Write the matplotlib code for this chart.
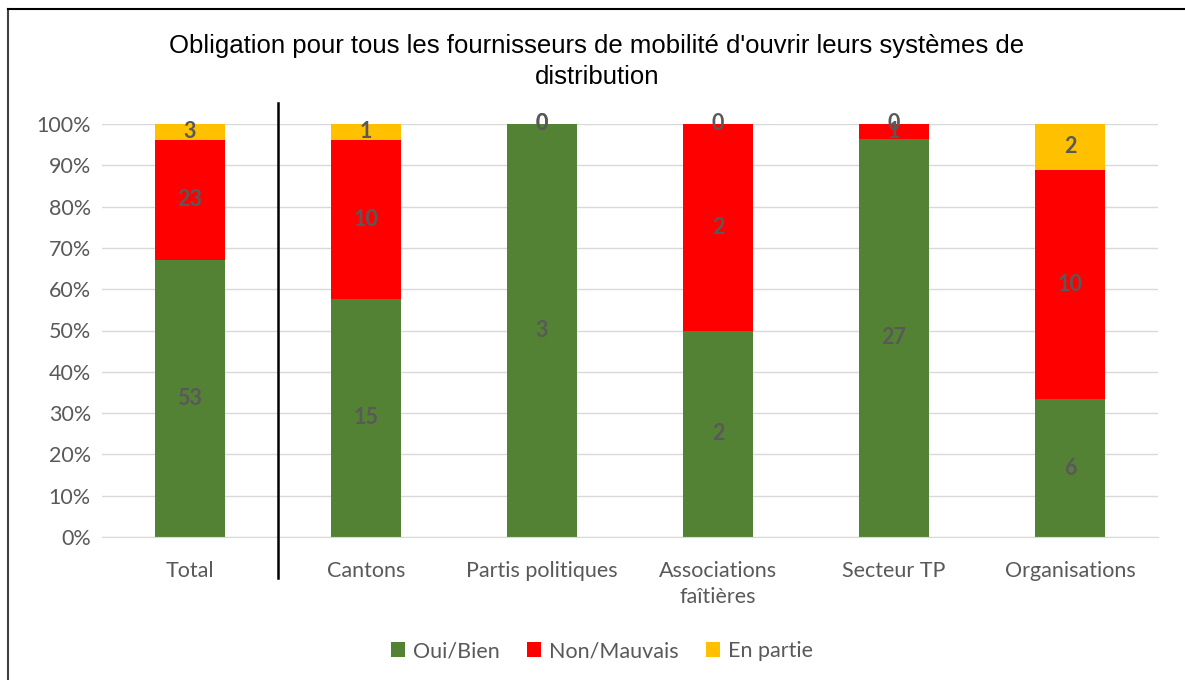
import matplotlib
matplotlib.use("Agg")
import matplotlib.pyplot as plt
import numpy as np

categories = ["Total", "Cantons", "Partis politiques", "Associations\nfaîtières", "Secteur TP", "Organisations"]
oui = [53, 15, 3, 2, 27, 6]
non = [23, 10, 0, 2, 1, 10]
partie = [3, 1, 0, 0, 0, 2]
series_names = ["Oui/Bien", "Non/Mauvais", "En partie"]
colors = ["#548235", "#ff0000", "#ffc000"]
title = "Obligation pour tous les fournisseurs de mobilité d'ouvrir leurs systèmes de\ndistribution"

plt.rcParams['font.family'] = ['Lato', 'DejaVu Sans']

counts = np.array([oui, non, partie], dtype=float)
totals = counts.sum(axis=0)
shares = counts / totals

fig = plt.figure(figsize=(11.85, 6.8), dpi=100)
ax = fig.add_axes([102/1185, 1 - 537/680, (1158-102)/1185, (537-124)/680])

x = np.arange(len(categories))
bottom = np.zeros(len(categories))
for i in range(3):
    ax.bar(x, shares[i], 0.4, bottom=bottom, color=colors[i], label=series_names[i], zorder=2)
    for j in range(len(categories)):
        ax.text(x[j], bottom[j] + shares[i][j] / 2, "%d" % counts[i][j], ha="center", va="center",
                fontsize=15.5, fontweight="bold", color="#595959", zorder=3)
    bottom += shares[i]

ax.set_xlim(-0.5, len(categories) - 0.5)
ax.set_ylim(0, 1)
ax.set_yticks(np.arange(0, 1.01, 0.1))
ax.set_yticklabels(["%d%%" % round(v * 100) for v in np.arange(0, 1.01, 0.1)])
ax.set_xticks(x)
ax.set_xticklabels(categories, linespacing=1.4)
ax.yaxis.grid(True, color="#d9d9d9", linewidth=1, zorder=0)
ax.set_axisbelow(True)
for s in ["top", "right", "left"]:
    ax.spines[s].set_visible(False)
ax.spines["bottom"].set_color("#d9d9d9")
ax.tick_params(axis="both", length=0, labelsize=15.5, labelcolor="#595959")
ax.tick_params(axis="x", pad=17)
ax.tick_params(axis="y", pad=8)

# separator between Total and the groups
ax.plot([0.5, 0.5], [1.05, -0.1], color="black", linewidth=1.8, clip_on=False, zorder=4)

fig.text(597/1185, 1 - 61.5/680, title, ha="center", va="center", fontsize=18.5,
         family="Liberation Sans", linespacing=1.4)

ax.legend(loc="center", bbox_to_anchor=(602/1185, 1 - 651/680), bbox_transform=fig.transFigure,
          ncol=3, frameon=False, fontsize=15.5, labelcolor="#595959", handlelength=0.65,
          handleheight=0.65, handletextpad=0.35, columnspacing=1.3)

# chart border
fig.add_artist(plt.Line2D([8/1185, 8/1185], [0, 1 - 9/680], color="#404040", linewidth=1.5))
fig.add_artist(plt.Line2D([8/1185, 1], [1 - 9/680, 1 - 9/680], color="black", linewidth=1.5))

fig.savefig("out.png", dpi=100, facecolor="white")
